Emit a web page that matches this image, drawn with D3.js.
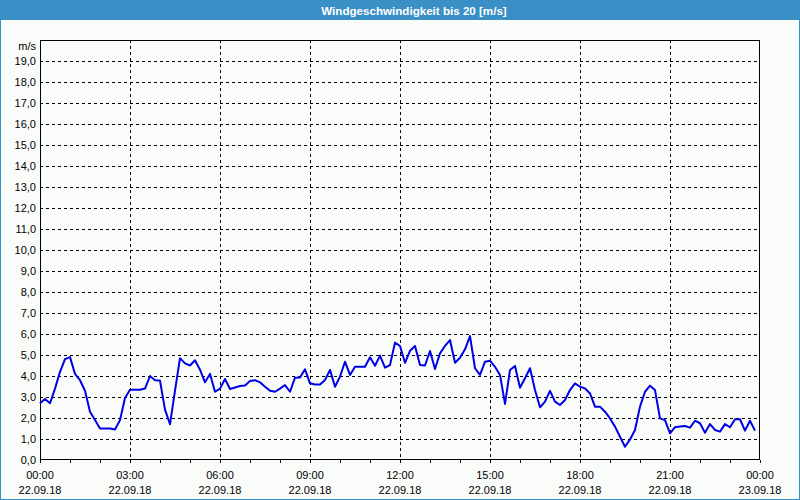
<!DOCTYPE html>
<html><head><meta charset="utf-8">
<script src="https://cdn.jsdelivr.net/npm/d3@7"></script>
<style>html,body{margin:0;padding:0;background:#fafcfa;}svg{display:block;}</style>
</head><body>
<script>
const title = "Windgeschwindigkeit bis 20 [m/s]";
const unitLabel = "m/s";
const timeLabels = ["00:00","03:00","06:00","09:00","12:00","15:00","18:00","21:00","00:00"];
const dateLabels = ["22.09.18","22.09.18","22.09.18","22.09.18","22.09.18","22.09.18","22.09.18","22.09.18","23.09.18"];
const yTicks = [0,1,2,3,4,5,6,7,8,9,10,11,12,13,14,15,16,17,18,19];
// minutes since 22.09.18 00:00, 10-minute steps
const windSpeed = [
2.7,2.9,2.7,3.4,4.2,4.8,4.9,4.1,3.8,3.3,
2.3,1.9,1.5,1.5,1.5,1.45,1.9,2.95,3.35,3.35,
3.35,3.4,4.0,3.8,3.78,2.4,1.7,3.3,4.85,4.6,
4.5,4.75,4.3,3.7,4.1,3.25,3.4,3.86,3.38,3.45,
3.52,3.55,3.76,3.8,3.7,3.49,3.3,3.25,3.4,3.57,
3.25,3.92,3.93,4.32,3.65,3.6,3.6,3.81,4.29,3.49,
3.97,4.68,4.05,4.44,4.44,4.44,4.89,4.49,4.97,4.4,
4.52,5.59,5.43,4.63,5.2,5.43,4.52,4.5,5.19,4.33,
5.08,5.43,5.71,4.63,4.87,5.27,5.9,4.37,4.05,4.68,
4.73,4.44,4.05,2.67,4.29,4.48,3.44,3.89,4.37,3.33,
2.51,2.78,3.29,2.78,2.62,2.86,3.33,3.65,3.49,3.41,
3.17,2.54,2.54,2.3,1.98,1.59,1.11,0.63,0.98,1.43,
2.54,3.25,3.54,3.33,1.98,1.9,1.27,1.56,1.59,1.62,
1.54,1.87,1.75,1.3,1.71,1.43,1.35,1.71,1.56,1.94,
1.94,1.4,1.87,1.4];
const minutes = windSpeed.map((_, i) => i * 10);

const W = 800, H = 500;
const svg = d3.select("body").append("svg").attr("width", W).attr("height", H);
const font = "Tahoma, 'Liberation Sans', Arial, sans-serif";

// window frame
svg.append("rect").attr("x",0).attr("y",0).attr("width",W).attr("height",H).attr("fill","#fafcfa");
svg.append("rect").attr("x",0.5).attr("y",0.5).attr("width",W-1).attr("height",H-1)
  .attr("fill","none").attr("stroke","#3b8fc7").attr("stroke-width",1);
svg.append("rect").attr("x",0).attr("y",0).attr("width",W).attr("height",20).attr("fill","#3b8fc7");
svg.append("text").attr("x",414).attr("y",14.5).attr("text-anchor","middle")
  .attr("fill","#ffffff").attr("font-family",font).attr("font-size","11.6px").attr("font-weight","bold")
  .text(title);

const x = d3.scaleLinear().domain([0,1440]).range([40,760]);
const y = d3.scaleLinear().domain([0,20]).range([460,40]);

const g = svg.append("g").attr("shape-rendering","crispEdges");
// horizontal grid
g.selectAll(".hg").data(yTicks.filter(d => d > 0)).enter().append("line")
  .attr("x1",40).attr("x2",760)
  .attr("y1",d => Math.round(y(d))+0.5).attr("y2",d => Math.round(y(d))+0.5)
  .attr("stroke","#000").attr("stroke-dasharray","3,3");
// vertical grid every 3h
const majorMin = d3.range(0, 1441, 180);
g.selectAll(".vg").data(majorMin.slice(1,-1)).enter().append("line")
  .attr("x1",d => Math.round(x(d))+0.5).attr("x2",d => Math.round(x(d))+0.5)
  .attr("y1",40).attr("y2",460)
  .attr("stroke","#000").attr("stroke-dasharray","3,3");

// x axis with hourly ticks
const xAxis = d3.axisBottom(x).tickValues(d3.range(0,1441,60)).tickSize(3).tickFormat("");
const xa = svg.append("g").attr("transform","translate(0,460)").call(xAxis);
xa.select(".domain").remove();
xa.selectAll("line").attr("stroke","#000").attr("shape-rendering","crispEdges");

// labels
const lbl = svg.append("g").attr("font-family",font).attr("font-size","11px").attr("fill","#000");
lbl.selectAll(".tl").data(majorMin).enter().append("text")
  .attr("x",d => x(d)).attr("y",479).attr("text-anchor","middle").text((d,i) => timeLabels[i]);
lbl.selectAll(".dl").data(majorMin).enter().append("text")
  .attr("x",d => x(d)).attr("y",494).attr("text-anchor","middle").text((d,i) => dateLabels[i]);
lbl.selectAll(".yl").data(yTicks).enter().append("text")
  .attr("x",36).attr("y",d => y(d)+4).attr("text-anchor","end")
  .text(d => d3.format(".1f")(d).replace(".", ","));
lbl.append("text").attr("x",36).attr("y",50).attr("text-anchor","end").text(unitLabel);

// frame
svg.append("rect").attr("x",40.5).attr("y",40.5).attr("width",719).attr("height",419)
  .attr("fill","none").attr("stroke","#000").attr("shape-rendering","crispEdges");

// data line
const line = d3.line().x((d,i) => x(minutes[i])).y(d => y(d));
svg.append("path").datum(windSpeed).attr("d",line)
  .attr("fill","none").attr("stroke","#0000e6").attr("stroke-width",2).attr("stroke-linejoin","round");
</script>
</body></html>
